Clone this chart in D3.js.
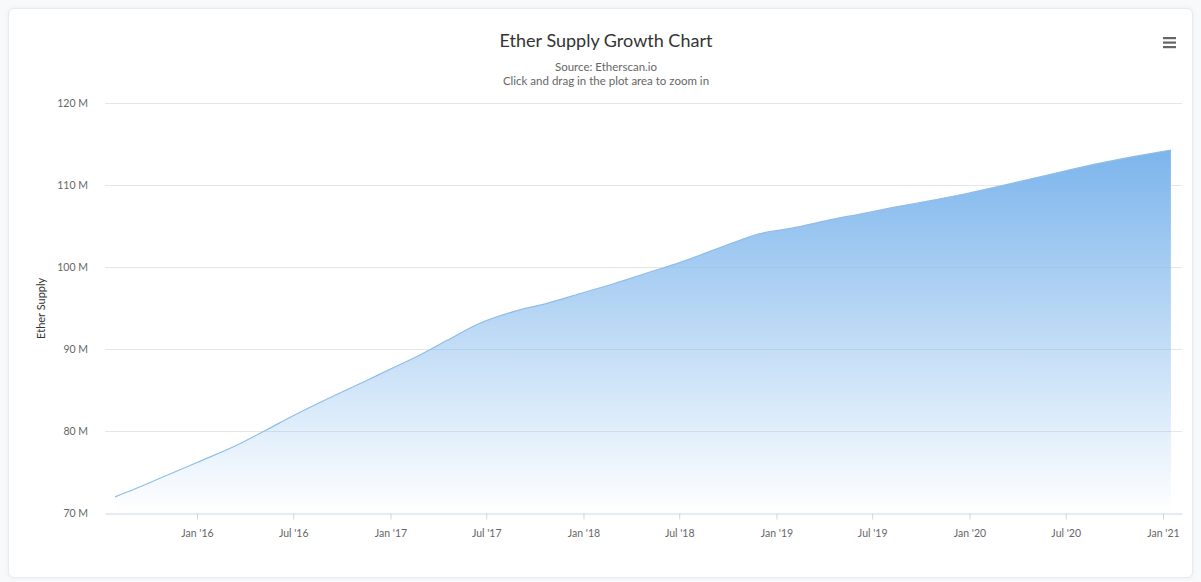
<!DOCTYPE html>
<html>
<head>
<meta charset="utf-8">
<script src="https://cdn.jsdelivr.net/npm/d3@7"></script>
<style>
  html, body { margin: 0; padding: 0; background: #f8f9fa; }
  body { width: 1201px; height: 582px; overflow: hidden; position: relative; }
  #card { position: absolute; left: 8px; top: 8px; width: 1183px; height: 568px; background: #fff;
          border: 1px solid #e7eaf3; border-radius: 6px; box-shadow: 0 0 4px rgba(140,152,164,0.12); }
  svg { position: absolute; left: 0; top: 0; }
</style>
</head>
<body>
<div id="card"></div>
<svg id="chart" width="1201" height="582"></svg>
<script>
const dates = ["2015-07-30","2015-09-03","2015-10-24","2016-01-01","2016-03-16","2016-05-12","2016-07-01",
  "2016-09-15","2016-11-17","2017-01-01","2017-02-13","2017-04-18","2017-06-20","2017-08-22","2017-10-24",
  "2017-12-26","2018-02-27","2018-05-01","2018-07-03","2018-09-29","2018-12-01","2019-02-02",
  "2019-04-06","2019-06-08","2019-08-10","2019-10-25","2019-12-27","2020-02-28","2020-05-01","2020-07-03",
  "2020-09-04","2020-11-06","2021-01-16"];
const supplyM = [72.0,72.9,74.3,76.2,78.3,80.2,81.9,84.3,86.2,87.6,88.9,91.1,93.2,94.6,95.6,96.8,98.0,99.3,
  100.6,102.7,104.1,104.8,105.7,106.5,107.3,108.2,109.0,109.9,110.85,111.8,112.7,113.5,114.3];
const yTicks = [70,80,90,100,110,120];
const xTicks = ["2016-01-01","2016-07-01","2017-01-01","2017-07-01","2018-01-01","2018-07-01",
  "2019-01-01","2019-07-01","2020-01-01","2020-07-01","2021-01-01"];
const titleText = "Ether Supply Growth Chart";
const subtitleLines = ["Source: Etherscan.io", "Click and drag in the plot area to zoom in"];
const yAxisTitle = "Ether Supply";

(function () {
const parse = d3.utcParse("%Y-%m-%d");
const data = dates.map((d, i) => ({ date: parse(d), v: supplyM[i] }));

const svg = d3.select("#chart");
const font = "Lato, 'Open Sans', sans-serif";
const pLeft = 105, pRight = 1182, pTop = 103.3, pBottom = 513.3;

const x = d3.scaleUtc().domain([parse("2015-07-11"), parse("2021-02-06")]).range([pLeft, pRight]);
const y = d3.scaleLinear().domain([70, 120]).range([pBottom, pTop]);

const defs = svg.append("defs");
const grad = defs.append("linearGradient").attr("id", "areaGrad")
  .attr("x1", 0).attr("y1", 0).attr("x2", 0).attr("y2", 1);
grad.append("stop").attr("offset", "0%").attr("stop-color", "#7cb5ec").attr("stop-opacity", 1);
grad.append("stop").attr("offset", "100%").attr("stop-color", "#7cb5ec").attr("stop-opacity", 0.0);

svg.append("g").selectAll("line").data(yTicks.slice(1)).join("line")
  .attr("x1", pLeft).attr("x2", pRight)
  .attr("y1", d => Math.round(y(d)) + 0.5).attr("y2", d => Math.round(y(d)) + 0.5)
  .attr("stroke", "#e6e6e6").attr("stroke-width", 1);

const area = d3.area().x(d => x(d.date)).y0(y(70)).y1(d => y(d.v)).curve(d3.curveMonotoneX);
svg.append("path").datum(data).attr("d", area).attr("fill", "url(#areaGrad)");
const line = d3.line().x(d => x(d.date)).y(d => y(d.v)).curve(d3.curveMonotoneX);
svg.append("path").datum(data).attr("d", line).attr("fill", "none")
  .attr("stroke", "#8fbde9").attr("stroke-width", 1.2);

const xAxis = d3.axisBottom(x).tickValues(xTicks.map(parse))
  .tickFormat(d => d3.utcFormat("%b '%y")(d)).tickSize(6).tickSizeOuter(0);
const gx = svg.append("g").attr("transform", `translate(0,${Math.round(pBottom) + 0.5})`).call(xAxis);
gx.select(".domain").attr("stroke", "#ccd6eb");
gx.selectAll(".tick line").attr("stroke", "#ccd6eb");
gx.selectAll(".tick text").attr("fill", "#666").attr("font-family", font).attr("font-size", "10.5px").attr("dy", "1.4em");

const yAxis = d3.axisLeft(y).tickValues(yTicks).tickFormat(d => d + " M").tickSize(0);
const gy = svg.append("g").attr("transform", `translate(${pLeft - 14},0)`).call(yAxis);
gy.select(".domain").remove();
gy.selectAll(".tick text").attr("fill", "#666").attr("font-family", font).attr("font-size", "10.5px");

svg.append("text").attr("transform", `translate(45,${(pTop + pBottom) / 2}) rotate(-90)`)
  .attr("text-anchor", "middle").attr("font-family", font).attr("font-size", "11px").attr("fill", "#333")
  .text(yAxisTitle);

svg.append("text").attr("x", 606).attr("y", 47).attr("text-anchor", "middle")
  .attr("font-family", font).attr("font-size", "18px").attr("fill", "#333").text(titleText);
svg.selectAll(".sub").data(subtitleLines).join("text").attr("class", "sub")
  .attr("x", 606).attr("y", (d, i) => 71 + i * 13.5).attr("text-anchor", "middle")
  .attr("font-family", font).attr("font-size", "11.5px").attr("fill", "#666").text(d => d);

svg.append("g").selectAll("rect").data([0, 1, 2]).join("rect")
  .attr("x", 1163).attr("y", d => 37 + d * 4.5).attr("width", 13).attr("height", 2.2)
  .attr("fill", "#666");
})();
</script>
</body>
</html>
